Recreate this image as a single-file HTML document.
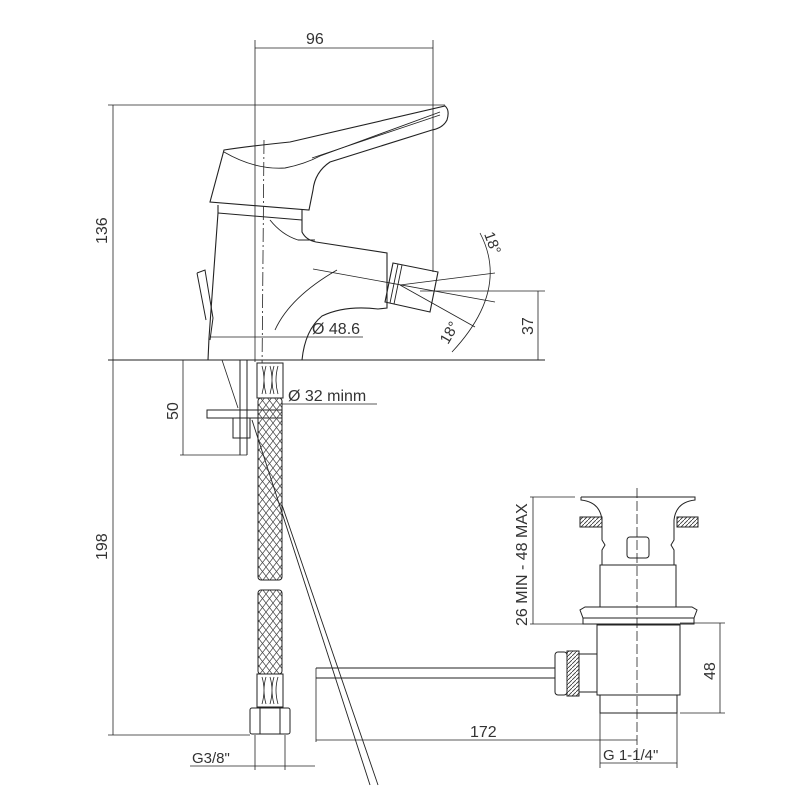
<!DOCTYPE html>
<html><head><meta charset="utf-8"><style>
html,body{margin:0;padding:0;background:#fff;}
svg{display:block;}
text{font-family:"Liberation Sans Narrow","Liberation Sans",sans-serif;fill:#333;}
</style></head><body>
<svg width="800" height="800" viewBox="0 0 800 800" xmlns="http://www.w3.org/2000/svg">
<defs>
<pattern id="mesh" width="7" height="9" patternUnits="userSpaceOnUse">
<path d="M0,0 L7,9 M7,0 L0,9" stroke="#444" stroke-width="0.7" fill="none"/>
</pattern>
<pattern id="hatch" width="4" height="4" patternUnits="userSpaceOnUse">
<path d="M0,4 L4,0" stroke="#333" stroke-width="0.8"/>
</pattern>
</defs>
<g fill="none" stroke="#222" stroke-width="1">
<line x1="255" y1="40" x2="255" y2="362" stroke-width="0.8"/>
<line x1="433" y1="40" x2="433" y2="272" stroke-width="0.8"/>
<line x1="255" y1="48" x2="433" y2="48" stroke-width="0.8"/>
<line x1="108" y1="105" x2="445" y2="105" stroke-width="0.8"/>
<line x1="113" y1="105" x2="113" y2="735" stroke-width="0.8"/>
<line x1="108" y1="360" x2="545" y2="360" stroke-width="0.9"/>
<line x1="264" y1="140" x2="262" y2="372" stroke-dasharray="14,3,2,3" stroke-width="0.8"/>
<path d="M224,150 Q250,146 290,142 L445,106 Q450,110 447,120 Q443,128 432,130 L330,162 Q315,172 313,190 L309,210 L210,202 Z" stroke-width="1.1"/>
<path d="M224,152 Q255,170 285,168 Q305,164 320,156 L440,112" stroke-width="0.9"/>
<path d="M312,158 L440,115" stroke-width="0.8"/>
<path d="M218,205 L218,213 L209,338 L208,360" stroke-width="1.1"/>
<path d="M218,213 L302,220" stroke-width="1"/>
<path d="M302,210 L302,232 Q306,240 316,242 L387,253 L387,308 L378,309 Q345,305 322,316 Q305,330 302,360" stroke-width="1.1"/>
<path d="M270,220 Q282,235 298,240 L315,240" stroke-width="0.9"/>
<path d="M275,330 Q290,297 337,270" stroke-width="0.9"/>
<path d="M197,273 L205,270 L213,318 L210,340 M197,273 L206,320" stroke-width="1"/>
<path d="M393,263 L438,272 L430,312 L385,302 Z" stroke-width="1.1"/>
<path d="M398,264 L390,303 M402,265 L394,304" stroke-width="0.9"/>
<line x1="313" y1="269" x2="495" y2="302" stroke-width="0.8"/>
<line x1="400" y1="285" x2="495" y2="273" stroke-width="0.8"/>
<line x1="400" y1="285" x2="475" y2="327" stroke-width="0.8"/>
<path d="M480,233 Q510,290 452,352" stroke-width="0.8"/>
<line x1="420" y1="291" x2="545" y2="291" stroke-width="0.8"/>
<line x1="538" y1="291" x2="538" y2="360" stroke-width="0.8"/>
<line x1="210" y1="337" x2="363" y2="337" stroke-width="0.8"/>
<line x1="240" y1="360" x2="240" y2="455" />
<line x1="247" y1="360" x2="247" y2="455" />
<path d="M222,360 L238,408" stroke-width="0.8"/>
<rect x="207" y="410" width="75" height="8" stroke-width="1"/>
<rect x="233" y="418" width="17" height="20"/>
<line x1="183" y1="360" x2="183" y2="455" stroke-width="0.8"/>
<line x1="180" y1="455" x2="247" y2="455" stroke-width="0.8"/>
<line x1="282" y1="404" x2="377" y2="404" stroke-width="0.8"/>
<rect x="258" y="398" width="24" height="182" rx="3" fill="url(#mesh)"/>
<rect x="258" y="590" width="24" height="84" rx="3" fill="url(#mesh)"/>
<rect x="257" y="363" width="26" height="35" fill="#fff"/>
<path d="M262,366 Q266,380 262,394 M270,366 Q274,380 270,394 M278,366 Q274,380 278,394 M266,366 Q262,380 266,394 M274,366 Q270,380 274,394" stroke-width="0.8"/>
<rect x="257" y="674" width="26" height="33" fill="#fff"/>
<path d="M262,677 Q266,690 262,704 M270,677 Q274,690 270,704 M278,677 Q274,690 278,704 M266,677 Q262,690 266,704 M274,677 Q270,690 274,704" stroke-width="0.8"/>
<rect x="250" y="708" width="40" height="26" rx="2"/>
<line x1="260" y1="708" x2="260" y2="734"/><line x1="280" y1="708" x2="280" y2="734"/>
<line x1="108" y1="735" x2="250" y2="735" stroke-width="0.8"/>
<line x1="255" y1="735" x2="255" y2="770" stroke-width="0.8"/>
<line x1="285" y1="735" x2="285" y2="770" stroke-width="0.8"/>
<line x1="190" y1="766" x2="315" y2="766" stroke-width="0.8"/>
<line x1="252" y1="420" x2="370" y2="785" stroke-width="0.9"/>
<line x1="282" y1="505" x2="378" y2="785" stroke-width="0.9"/>
<line x1="316" y1="668" x2="555" y2="668"/>
<line x1="316" y1="678" x2="555" y2="678"/>
<line x1="316" y1="668" x2="316" y2="742" stroke-width="0.8"/>
<line x1="316" y1="740" x2="637" y2="740" stroke-width="0.8"/>
<rect x="555" y="652" width="12" height="43" rx="3"/>
<rect x="567" y="651" width="12" height="45" fill="url(#hatch)"/>
<rect x="579" y="654" width="18" height="38"/>
<rect x="597" y="625" width="83" height="70"/>
<rect x="600" y="695" width="77" height="18"/>
<path d="M583,618 L694,618 L697,610 L692,607 L585,607 L580,610 Z"/>
<rect x="583" y="618" width="111" height="6"/>
<rect x="600" y="565" width="76" height="42"/>
<path d="M581,497 L695,497 L695,500 Q676,502 674,520 L674,540 L671,545 L674,550 L674,565 M581,497 L581,500 Q600,502 602,520 L602,540 L605,545 L602,550 L602,565"/>
<rect x="580" y="517" width="22" height="10" fill="url(#hatch)"/>
<rect x="677" y="517" width="21" height="10" fill="url(#hatch)"/>
<rect x="627" y="537" width="22" height="21" rx="3"/>
<line x1="637" y1="488" x2="637" y2="762" stroke-dasharray="10,3" stroke-width="0.8"/>
<line x1="533" y1="497" x2="533" y2="624" stroke-width="0.8"/>
<line x1="530" y1="497" x2="575" y2="497" stroke-width="0.8"/>
<line x1="530" y1="624" x2="583" y2="624" stroke-width="0.8"/>
<line x1="680" y1="623" x2="725" y2="623" stroke-width="0.8"/>
<line x1="680" y1="713" x2="725" y2="713" stroke-width="0.8"/>
<line x1="720" y1="623" x2="720" y2="713" stroke-width="0.8"/>
<line x1="600" y1="713" x2="600" y2="768" stroke-width="0.8"/>
<line x1="677" y1="713" x2="677" y2="768" stroke-width="0.8"/>
<line x1="600" y1="763" x2="677" y2="763" stroke-width="0.8"/>
</g>
<text x="306" y="44" font-size="16">96</text>
<text transform="translate(107,244) rotate(-90)" font-size="16">136</text>
<text transform="translate(107,560) rotate(-90)" font-size="16">198</text>
<text transform="translate(178,420) rotate(-90)" font-size="16">50</text>
<text transform="translate(533,335) rotate(-90)" font-size="16">37</text>
<text transform="translate(715,680) rotate(-90)" font-size="16">48</text>
<text transform="translate(527,626) rotate(-90)" font-size="16">26 MIN - 48 MAX</text>
<text x="312" y="334" font-size="16">Ø 48.6</text>
<text x="288" y="401" font-size="16">Ø 32  minm</text>
<text x="192" y="763" font-size="15">G3/8"</text>
<text x="470" y="737" font-size="16">172</text>
<text x="603" y="760" font-size="15">G  1-1/4"</text>
<text transform="translate(484,234) rotate(70)" font-size="15">18°</text>
<text transform="translate(448,345) rotate(-60)" font-size="15">18°</text>
</svg>
</body></html>
